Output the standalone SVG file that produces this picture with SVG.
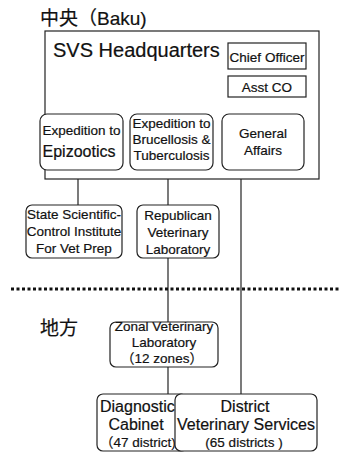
<svg xmlns="http://www.w3.org/2000/svg" width="340" height="452" viewBox="0 0 340 452">
<style>
text{font-family:"Liberation Sans","Noto Sans CJK JP",sans-serif;fill:#111;text-anchor:middle;stroke:#111;stroke-width:0.2}
.box{fill:#fff;stroke:#222;stroke-width:1.2}
.ln{stroke:#222;stroke-width:1.2;fill:none}
.s12{font-size:13.5px}
.s15{font-size:16px}
.lbl{font-size:19px;text-anchor:start}
</style>
<rect width="340" height="452" fill="#fff"/>
<text class="lbl" x="40" y="25">中央（Baku)</text>
<text class="lbl" x="40" y="335">地方</text>
<g id="connectors">
<line class="ln" x1="78" y1="179" x2="78" y2="205"/>
<line class="ln" x1="168" y1="179" x2="168" y2="205"/>
<line class="ln" x1="241" y1="170" x2="241" y2="394"/>
<line class="ln" x1="168" y1="258" x2="168" y2="322"/>
<line class="ln" x1="168" y1="367" x2="168" y2="394"/>
<line x1="11" y1="289" x2="340" y2="289" stroke="#111" stroke-width="3" stroke-dasharray="3,2.5"/>
</g>
<g id="hq">
<rect class="box" x="45" y="31" width="274" height="148"/>
<text x="53" y="57" style="font-size:20px;text-anchor:start">SVS Headquarters</text>
</g>
<g id="chief">
<rect class="box" x="228" y="43" width="78" height="26"/>
<text class="s12" x="267" y="62">Chief Officer</text>
</g>
<g id="asst">
<rect class="box" x="228" y="76" width="78" height="21"/>
<text class="s12" x="267" y="92">Asst CO</text>
</g>
<g id="epizootics">
<rect class="box" x="40" y="114" width="83" height="56" rx="7"/>
<text class="s12" x="81.5" y="135">Expedition to</text>
<text class="s15" x="79" y="157">Epizootics</text>
</g>
<g id="brucellosis">
<rect class="box" x="130" y="114" width="83" height="56" rx="7"/>
<text class="s12" x="171.5" y="128">Expedition to</text>
<text class="s12" x="171.5" y="144">Brucellosis &amp;</text>
<text class="s12" x="171.5" y="160">Tuberculosis</text>
</g>
<g id="general">
<rect class="box" x="222" y="114" width="82" height="56" rx="7"/>
<text class="s12" x="263" y="138">General</text>
<text class="s12" x="263" y="155">Affairs</text>
</g>
<g id="state">
<rect class="box" x="26" y="205" width="96" height="53" rx="6"/>
<text class="s12" x="74" y="219">State Scientific-</text>
<text class="s12" x="74" y="236">Control Institute</text>
<text class="s12" x="74" y="253">For Vet Prep</text>
</g>
<g id="republican">
<rect class="box" x="137" y="205" width="82" height="53" rx="6"/>
<text class="s12" x="178" y="220">Republican</text>
<text class="s12" x="178" y="237">Veterinary</text>
<text class="s12" x="178" y="254">Laboratory</text>
</g>
<g id="zonal">
<rect class="box" x="110" y="322" width="108" height="45" rx="6"/>
<text class="s12" x="164" y="331">Zonal Veterinary</text>
<text class="s12" x="164" y="347">Laboratory</text>
<text class="s12" x="162" y="363">（12 zones）</text>
</g>
<g id="diagnostic">
<rect class="box" x="97" y="394" width="90" height="57" rx="6"/>
<text class="s15" x="100" y="412" style="text-anchor:start">Diagnostic</text>
<text class="s15" x="136" y="430">Cabinet</text>
<text class="s12" x="100" y="447" style="text-anchor:start">（47 district)</text>
</g>
<g id="district">
<rect class="box" x="175" y="394" width="142" height="57" rx="6"/>
<text class="s15" x="245" y="412">District</text>
<text class="s15" x="246" y="430">Veterinary Services</text>
<text class="s12" x="244" y="447">(65 districts )</text>
</g>
</svg>
